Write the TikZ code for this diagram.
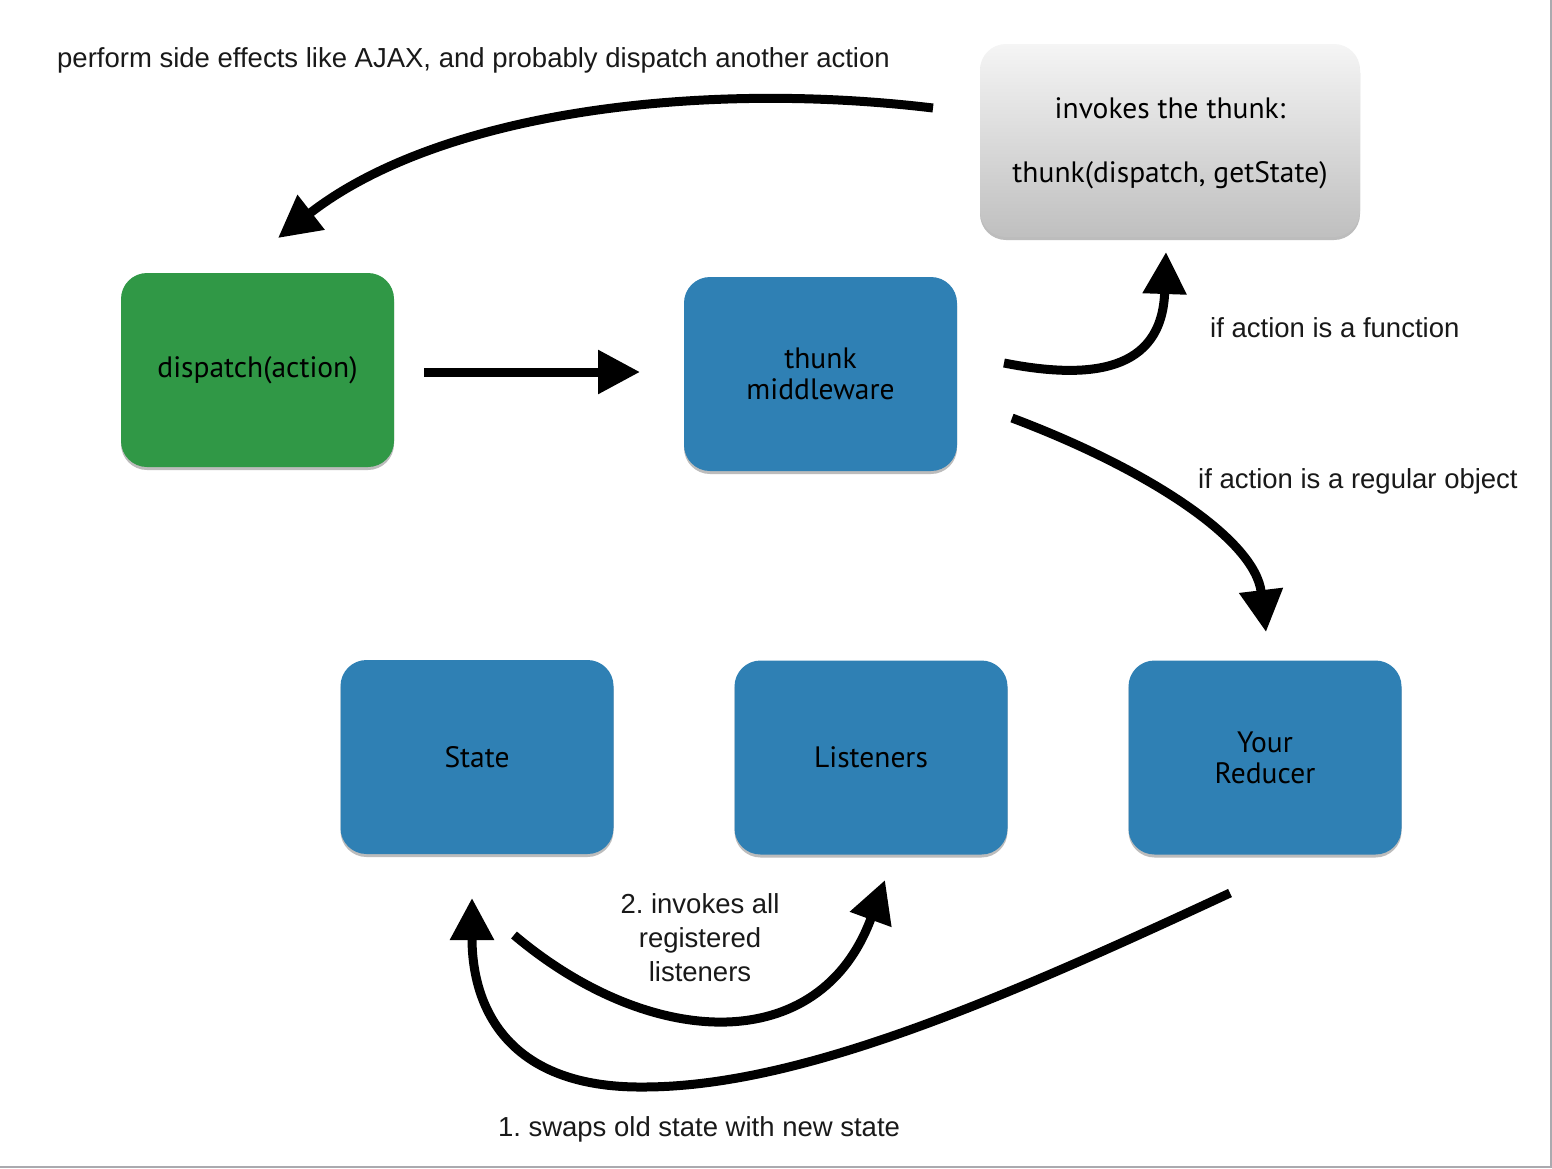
\documentclass[tikz,border=0pt]{standalone}
\usepackage{fontspec}
\setmainfont{Liberation Sans}
\newfontfamily\boxfont{PT Sans}
\usetikzlibrary{arrows.meta,shadows}
\definecolor{boxblue}{RGB}{47,128,180}
\definecolor{boxgreen}{RGB}{48,152,70}
\definecolor{edgegray}{RGB}{170,170,175}
\frenchspacing
\begin{document}
\begin{tikzpicture}[x=1pt,y=-1pt,
  card/.style={rectangle, rounded corners=26pt, minimum width=273pt, minimum height=194pt,
    inner sep=0pt, align=center, font=\boxfont\fontsize{29.5}{31}\selectfont, text=black,
    drop shadow={shadow xshift=0pt, shadow yshift=-3pt, opacity=0.35, fill=black!75}},
  bluecard/.style={card, fill=boxblue},
  greencard/.style={card, fill=boxgreen},
  graycard/.style={card, minimum width=380pt, minimum height=193pt, top color=black!4, bottom color=black!25},
  lbl/.style={inner sep=0pt, align=center, font=\fontsize{27.5}{34}\selectfont, text=black!90},
  bigarrow/.style={line width=9pt, -{Triangle[length=42pt,width=42pt]}}]
\useasboundingbox (0,0) rectangle (1552,1168);
\fill[white] (0,0) rectangle (1552,1168);
\draw[edgegray, line width=2pt] (1550.5,0) -- (1550.5,1166.5) -- (0,1166.5);

% boxes
\node[greencard] (dispatch) at (257.5,370) {dispatch(action)};
\node[bluecard] (thunk) at (820.5,374) {thunk\\middleware};
\node[graycard] (invoke) at (1170,140.5) {};
\node[inner sep=0pt, align=center, font=\boxfont\fontsize{29.5}{31}\selectfont] (invoketext) at (1170,143.5) {invokes the thunk:\\[33pt]thunk(dispatch, getState)};
\node[bluecard] (state) at (477,757) {State};
\node[bluecard] (listeners) at (871,757.5) {Listeners};
\node[bluecard] (reducer) at (1265,757.5) {Your\\Reducer};

% labels
\node[lbl, anchor=west] (lperform) at (57,60) {perform side effects like AJAX, and probably dispatch another action};
\node[lbl, anchor=west] (lfunc) at (1210,328) {if action is a function};
\node[lbl, anchor=west] (lobj) at (1198,481) {if action is a regular object};
\node[lbl] (llisten) at (700,938) {2. invokes all\\registered\\listeners};
\node[lbl] (lswap) at (699,1129) {1. swaps old state with new state};

% connector end points
\coordinate (a1s) at (933,108);
\coordinate (a1e) at (278,238);
\coordinate (a2s) at (424,372);
\coordinate (a2e) at (640,372);
\coordinate (a3s) at (1004,363);
\coordinate (a3e) at (1166,252);
\coordinate (a4s) at (1012,418);
\coordinate (a4e) at (1266,632);
\coordinate (a5s) at (514,935);
\coordinate (a5e) at (885,880);
\coordinate (a6s) at (1230,893);
\coordinate (a6m) at (643,1087);
\coordinate (a6e) at (472,898);

% connectors
\draw[bigarrow] (a1s) .. controls (700,80) and (440,112) .. (a1e);
\draw[bigarrow] (a2s) -- (a2e);
\draw[bigarrow] (a3s) .. controls (1090,380) and (1162,372) .. (a3e);
\draw[bigarrow] (a4s) .. controls (1150,470) and (1255,540) .. (a4e);
\draw[bigarrow] (a5s) .. controls (650,1050) and (820,1058) .. (a5e);
\draw[bigarrow] (a6s) .. controls (1000,1000) and (800,1087) .. (a6m)
   .. controls (510,1088) and (472,1010) .. (a6e);
\end{tikzpicture}
\end{document}
